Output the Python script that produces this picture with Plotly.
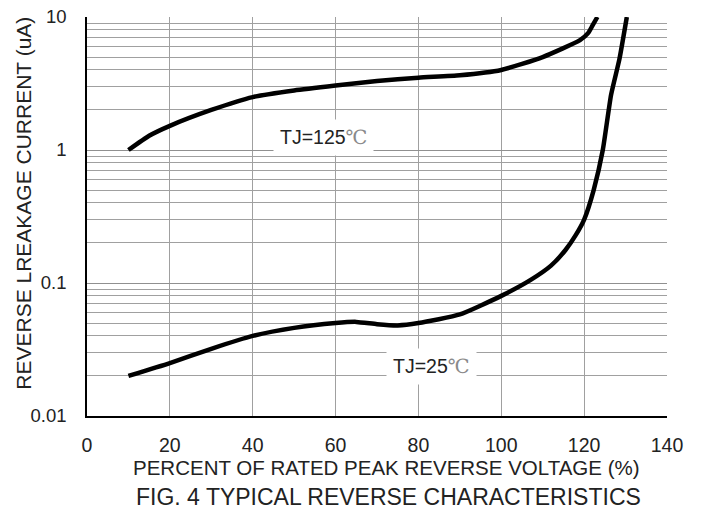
import math
import plotly.graph_objects as go

# Data
x_125 = [10, 15, 20, 30, 40, 50, 60, 70, 80, 90, 100, 110, 119, 121, 122, 123.2]
y_125 = [1.0, 1.28, 1.52, 2.0, 2.5, 2.8, 3.05, 3.3, 3.5, 3.65, 4.0, 5.0, 6.7, 7.6, 8.6, 10]

x_25 = [10, 20, 30, 40, 50, 60, 65, 70, 75, 80, 90, 100, 107, 112, 115.5, 118, 120,
        122.3, 124.5, 126.5, 128.5, 130.3]
y_25 = [0.020, 0.025, 0.032, 0.040, 0.046, 0.050, 0.051, 0.049, 0.048, 0.050, 0.058,
        0.080, 0.105, 0.135, 0.177, 0.23, 0.30, 0.50, 1.0, 2.6, 4.8, 10]

x_ticks = [0, 20, 40, 60, 80, 100, 120, 140]
y_ticks = [0.01, 0.1, 1, 10]
y_tick_text = ["0.01", "0.1", "1", "10"]
y_minor = [m * d for d in (0.01, 0.1, 1) for m in range(2, 10)]

label_125 = ("TJ=125", 57, 1.24)
label_25 = ("TJ=25", 83.1, 0.0237)

FONT = "Liberation Sans, Arial, sans-serif"
TXT = "#222222"
GRID = "#a0a0a0"

fig = go.Figure()
for xs, ys in ((x_125, y_125), (x_25, y_25)):
    fig.add_trace(go.Scatter(x=xs, y=ys, mode="lines",
                             line=dict(color="black", width=4.5, shape="spline", smoothing=0.5),
                             showlegend=False, hoverinfo="skip"))

for txt, lx, ly in (label_125, label_25):
    fig.add_annotation(x=lx, y=math.log10(ly), xref="x", yref="y", showarrow=False,
                       text=txt + '<span style="color:#8a8a8a;font-family:DejaVu Serif">℃</span>',
                       font=dict(family=FONT, size=19.5, color=TXT),
                       bgcolor="white", borderpad=6)

fig.add_annotation(x=0.516, y=-0.130, xref="paper", yref="paper", showarrow=False,
                   text="PERCENT OF RATED PEAK REVERSE VOLTAGE (%)",
                   font=dict(family=FONT, size=20.5, color=TXT), xanchor="center", yanchor="middle")
fig.add_annotation(x=-0.109, y=0.534, xref="paper", yref="paper", showarrow=False,
                   text="REVERSE LREAKAGE CURRENT (uA)", textangle=-90,
                   font=dict(family=FONT, size=21, color=TXT), xanchor="center", yanchor="middle")
fig.add_annotation(x=0.520, y=-0.203, xref="paper", yref="paper", showarrow=False,
                   text="FIG. 4 TYPICAL REVERSE CHARACTERISTICS",
                   font=dict(family=FONT, size=23, color=TXT), xanchor="center", yanchor="middle")

fig.update_layout(
    width=702, height=517,
    margin=dict(l=87, r=35, t=17, b=101),
    paper_bgcolor="white", plot_bgcolor="white",
    xaxis=dict(range=[0, 140], tickvals=x_ticks, showgrid=True, gridcolor=GRID, gridwidth=1,
               showline=True, linecolor="black", linewidth=1.5, ticks="", zeroline=False,
               automargin=False, ticklabelstandoff=11, ticklabeloverflow="allow",
               tickfont=dict(family=FONT, size=19.5, color=TXT)),
    yaxis=dict(type="log", range=[-2, 1], tickvals=y_ticks, ticktext=y_tick_text,
               showgrid=True, gridcolor="#909090", gridwidth=1,
               minor=dict(tickmode="array", tickvals=y_minor, showgrid=True,
                          gridcolor=GRID, gridwidth=1, ticks=""),
               showline=True, linecolor="black", linewidth=1.5, ticks="", zeroline=False,
               automargin=False, ticklabelstandoff=15, ticklabeloverflow="allow",
               tickfont=dict(family=FONT, size=18.5, color=TXT)),
)

fig.write_html("out.html", config={"displayModeBar": False},
               post_script="document.body.style.margin='0';")
